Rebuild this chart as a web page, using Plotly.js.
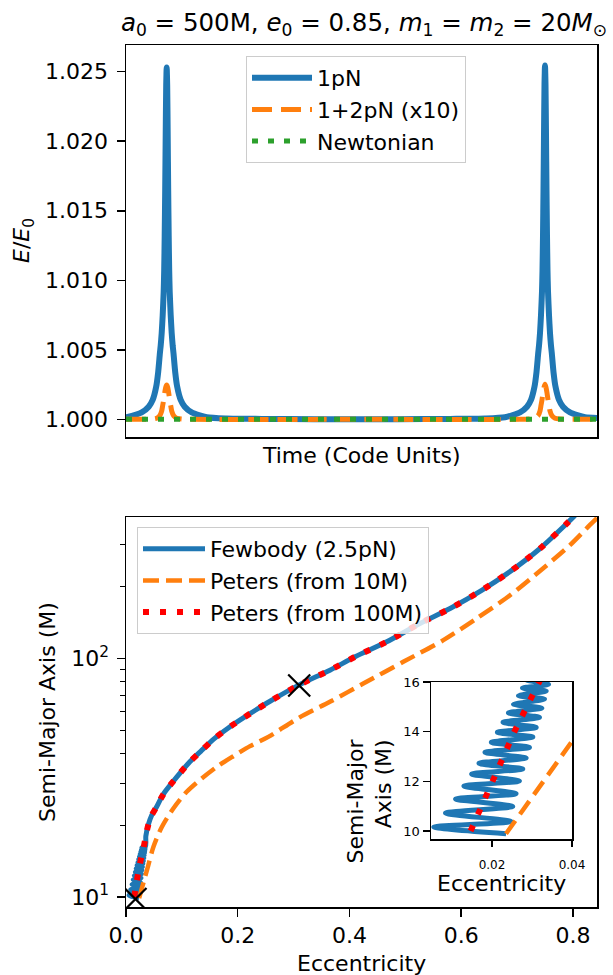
<!DOCTYPE html>
<html><head><meta charset="utf-8">
<script src="https://cdn.plot.ly/plotly-3.0.1.min.js"></script>
<style>html,body{margin:0;padding:0;background:#fff}#chart{width:613px;height:975px}</style>
</head><body><div id="chart"></div><script>
// ---------- Top panel data (E/E0 vs time) ----------
const time1pN = [0, 0.15, 3.332, 4.819, 5.668, 6.411, 6.835, 7.196, 7.366, 7.578,
  7.791, 8.003, 8.109, 8.215, 8.322, 8.428, 8.534, 8.64, 8.746, 8.852,
  8.958, 9.065, 9.171, 9.277, 9.489, 9.702, 9.914, 10.084, 10.445, 10.869,
  11.612, 12.461, 13.948, 17.13, 21.38, 28.84, 40, 48.8, 57.6, 68.76,
  76.22, 80.47, 83.652, 85.139, 85.988, 86.731, 87.155, 87.516, 87.686, 87.898,
  88.111, 88.323, 88.429, 88.535, 88.642, 88.748, 88.854, 88.96, 89.066, 89.172,
  89.278, 89.385, 89.491, 89.597, 89.809, 90.022, 90.234, 90.404, 90.765, 91.189,
  91.932, 92.781, 94.268, 97.45, 100];
const energy1pN = [1.00014, 1.00015, 1.0005, 1.00091, 1.0014, 1.00235, 1.0034, 1.00475, 1.0053, 1.0062,
  1.0075, 1.0092, 1.0107, 1.0132, 1.0165, 1.0205, 1.0240, 1.0253, 1.0240, 1.0205,
  1.0165, 1.0132, 1.0107, 1.0092, 1.0075, 1.0062, 1.0053, 1.00475, 1.0034, 1.00235,
  1.0014, 1.00091, 1.0005, 1.00015, 1.00006, 1.00003, 1.00001, 1.00001, 1.00001, 1.00003,
  1.00006, 1.00015, 1.0005, 1.00091, 1.0014, 1.00235, 1.0034, 1.00475, 1.0053, 1.0062,
  1.0075, 1.0092, 1.0107, 1.0132, 1.0165, 1.0205, 1.0241, 1.02545, 1.0241, 1.0205,
  1.0165, 1.0132, 1.0107, 1.0092, 1.0075, 1.0062, 1.0053, 1.00475, 1.0034, 1.00235,
  1.0014, 1.00091, 1.0005, 1.00015, 1.0001];
const time12pN = [0, 3.33, 5.455, 6.517, 7.154, 7.578, 7.791, 8.003, 8.215, 8.428,
  8.64, 8.852, 9.065, 9.277, 9.489, 9.702, 10.126, 10.763, 11.825, 13.95,
  50, 83.65, 85.775, 86.837, 87.474, 87.898, 88.111, 88.323, 88.535, 88.748,
  88.96, 89.172, 89.385, 89.597, 89.809, 90.022, 90.446, 91.083, 92.145, 94.27, 100];
const energy12pN = [1.0, 1.0, 1.00002, 1.00008, 1.00025, 1.0006, 1.0010, 1.0014, 1.0019, 1.0023,
  1.00247, 1.0023, 1.0019, 1.0014, 1.0010, 1.0006, 1.00025, 1.00008, 1.00002, 1.0,
  1.0, 1.0, 1.00002, 1.00008, 1.00025, 1.0006, 1.0010, 1.0014, 1.0019, 1.0023,
  1.00252, 1.0023, 1.0019, 1.0014, 1.0010, 1.0006, 1.00025, 1.00008, 1.00002, 1.0, 1.0];
const timeNewt = [0, 50, 100];
const energyNewt = [1.0, 1.0, 1.0];
const energyTicks = [1.000, 1.005, 1.010, 1.015, 1.020, 1.025];
const energyTickText = ['1.000', '1.005', '1.010', '1.015', '1.020', '1.025'];

// ---------- Bottom panel data (semi-major axis vs eccentricity) ----------
const eccFewbody = [0.02351, 0.00544, 0.02477, 0.00837, 0.02519, 0.01088, 0.02602, 0.01297, 0.02686, 0.01490,
  0.02770, 0.01674, 0.02854, 0.01824, 0.02937, 0.01983, 0.03021, 0.02134, 0.03105, 0.02276,
  0.03188, 0.02410, 0.03247, 0.02536, 0.03314, 0.02661, 0.03356, 0.02761, 0.03414, 0.02845,
  0.03473, 0.0355, 0.040, 0.046, 0.0549, 0.0625, 0.0698, 0.0907, 0.1115, 0.1342, 0.158, 0.1831,
  0.2099, 0.2368, 0.2608, 0.31, 0.365, 0.41, 0.4666, 0.526, 0.58, 0.6366,
  0.6903, 0.741, 0.789, 0.8036, 0.815];
const aFewbody = [9.893, 10.161, 10.389, 10.725, 10.993, 11.289, 11.503, 11.812, 12.013, 12.295,
  12.497, 12.725, 12.940, 13.168, 13.369, 13.570, 13.785, 13.973, 14.174, 14.376,
  14.577, 14.752, 14.953, 15.101, 15.315, 15.450, 15.638, 15.758, 15.906, 16.094,
  16.255, 18.0, 20.1, 22.0, 23.9, 25.9, 27.6, 31.8, 36.3, 40.9, 46.1, 51.1,
  56.3, 61.7, 66.8, 77.5, 89.3, 101.6, 117.4, 140.2, 162, 193,
  234, 289, 368, 398, 430];
const ecc10M = [0.0235, 0.04, 0.049, 0.0639, 0.0847, 0.1086, 0.1355, 0.1623, 0.192, 0.222,
  0.2547, 0.31, 0.365, 0.4247, 0.4963, 0.568, 0.6277, 0.6873, 0.7468, 0.7946, 0.836, 0.86];
const a10M = [9.893, 13.61, 16.2, 19.6, 23.5, 27.6, 31.4, 35.1, 38.9, 42.9,
  46.9, 56.5, 65.8, 78.5, 96.8, 119.3, 147.2, 184, 239, 298.5, 374, 420];
const ecc100M = [0.01465, 0.01665, 0.01849, 0.02033, 0.02201, 0.02385, 0.02561, 0.02745, 0.02937, 0.03121,
  0.0355, 0.040, 0.046, 0.0549, 0.0625, 0.0698, 0.0907, 0.1115, 0.1342, 0.158, 0.1831, 0.2099,
  0.2368, 0.2608, 0.31, 0.365, 0.41, 0.4666, 0.526, 0.58, 0.6366, 0.6903,
  0.741, 0.789, 0.8036, 0.815];
const a100M = [10.0, 10.70, 11.37, 12.03, 12.70, 13.36, 14.01, 14.67, 15.34, 15.96,
  18.0, 20.1, 22.0, 23.9, 25.9, 27.6, 31.8, 36.3, 40.9, 46.1, 51.1, 56.3,
  61.7, 66.8, 77.5, 89.3, 101.6, 117.4, 140.2, 162, 193, 234,
  289, 368, 398, 430];
const markerEcc = [0.017, 0.31];
const markerA = [9.8, 77];
const eccTicks = [0, 0.2, 0.4, 0.6, 0.8];
const eccTickText = ['0.0', '0.2', '0.4', '0.6', '0.8'];
const aMajorTicks = [10, 100];
const aMajorText = ['10<sup>1</sup>', '10<sup>2</sup>'];
const aMinorTicks = [9, 20, 30, 40, 50, 60, 70, 80, 90, 200, 300];
const insetEccTicks = [0.02, 0.04];
const insetEccText = ['0.02', '0.04'];
const insetATicks = [10, 12, 14, 16];

const BLUE = '#1f77b4', ORANGE = '#ff7f0e', GREEN = '#2ca02c', RED = '#ff0000';
const FONT = 'DejaVu Sans, Arial, sans-serif';
const W = 613, H = 975;
const px = v => v / W, py = v => 1 - v / H;

const traces = [
  {x: time1pN, y: energy1pN, name: '1pN', mode: 'lines', xaxis: 'x', yaxis: 'y', legend: 'legend',
   line: {color: BLUE, width: 6, shape: 'spline', smoothing: 0.6}},
  {x: time12pN, y: energy12pN, name: '1+2pN (x10)', mode: 'lines', xaxis: 'x', yaxis: 'y', legend: 'legend',
   line: {color: ORANGE, width: 5, dash: '20px,9px', shape: 'spline', smoothing: 0.6}},
  {x: timeNewt, y: energyNewt, name: 'Newtonian', mode: 'lines', xaxis: 'x', yaxis: 'y', legend: 'legend',
   line: {color: GREEN, width: 5, dash: '6px,10px'}},

  {x: eccFewbody, y: aFewbody, name: 'Fewbody (2.5pN)', mode: 'lines', xaxis: 'x2', yaxis: 'y2', legend: 'legend2',
   line: {color: BLUE, width: 5, shape: 'spline', smoothing: 0.8}},
  {x: ecc10M, y: a10M, name: 'Peters (from 10M)', mode: 'lines', xaxis: 'x2', yaxis: 'y2', legend: 'legend2',
   line: {color: ORANGE, width: 4.5, dash: '16px,7px', shape: 'spline', smoothing: 0.8}},
  {x: ecc100M, y: a100M, name: 'Peters (from 100M)', mode: 'lines', xaxis: 'x2', yaxis: 'y2', legend: 'legend2',
   line: {color: RED, width: 6, dash: '6px,11px', shape: 'spline', smoothing: 0.8}},
  {x: markerEcc, y: markerA, mode: 'markers', xaxis: 'x2', yaxis: 'y2', showlegend: false,
   marker: {symbol: 'x-thin', size: 22, color: 'black', line: {color: 'black', width: 2.2}}},

  {x: eccFewbody, y: aFewbody, mode: 'lines', xaxis: 'x3', yaxis: 'y3', showlegend: false,
   line: {color: BLUE, width: 5, shape: 'spline', smoothing: 0.8}},
  {x: ecc10M, y: a10M, mode: 'lines', xaxis: 'x3', yaxis: 'y3', showlegend: false,
   line: {color: ORANGE, width: 4.5, dash: '16px,8px'}},
  {x: ecc100M, y: a100M, mode: 'lines', xaxis: 'x3', yaxis: 'y3', showlegend: false,
   line: {color: RED, width: 6, dash: '6px,12px'}}
];

const axBase = {showgrid: false, zeroline: false, showline: true, linecolor: 'black', linewidth: 1.5,
  mirror: true, ticks: 'outside', tickcolor: 'black', tickwidth: 1.5, ticklen: 8,
  tickfont: {family: FONT, size: 22, color: 'black'}, fixedrange: true};

const layout = {
  width: W, height: H, margin: {l: 0, r: 0, t: 0, b: 0},
  paper_bgcolor: 'white', plot_bgcolor: 'white',
  font: {family: FONT, size: 22, color: 'black'},
  title: {text: '<i>a</i><sub>0</sub> = 500M, <i>e</i><sub>0</sub> = 0.85, <i>m</i><sub>1</sub> = <i>m</i><sub>2</sub> = 20<i>M</i><sub>⊙</sub>',
    x: px(364), xanchor: 'center', y: py(22), yanchor: 'middle', font: {family: FONT, size: 24.5, color: 'black'}},
  xaxis: Object.assign({}, axBase, {domain: [px(126), px(597)], range: [0, 100], ticks: '', showticklabels: false, anchor: 'y'}),
  yaxis: Object.assign({}, axBase, {domain: [py(437), py(45)], range: [0.99873, 1.02692], tickvals: energyTicks, ticktext: energyTickText, anchor: 'x', ticklabelstandoff: 4}),
  xaxis2: Object.assign({}, axBase, {domain: [px(126), px(597)], range: [0, 0.843], tickvals: eccTicks, ticktext: eccTickText, anchor: 'y2'}),
  yaxis2: Object.assign({}, axBase, {domain: [py(907), py(517)], type: 'log', range: [0.958, 2.593],
    tickvals: aMajorTicks, ticktext: aMajorText, anchor: 'x2', ticklabelstandoff: 3,
    minor: {tickmode: 'array', tickvals: aMinorTicks, ticks: 'outside', ticklen: 4.5, tickwidth: 1.2, tickcolor: 'black', showgrid: false}}),
  xaxis3: Object.assign({}, axBase, {domain: [px(431), px(572)], range: [0.00475, 0.04], tickvals: insetEccTicks, ticktext: insetEccText,
    ticklen: 6, tickfont: {family: FONT, size: 12, color: 'black'}, anchor: 'y3', ticklabelstandoff: 8}),
  yaxis3: Object.assign({}, axBase, {domain: [py(839), py(682)], range: [9.68, 16], tickvals: insetATicks,
    ticklen: 7, tickfont: {family: FONT, size: 13, color: 'black'}, anchor: 'x3'}),
  legend: {x: px(246), y: py(56), xanchor: 'left', yanchor: 'top', bgcolor: 'rgba(255,255,255,0.8)',
    bordercolor: '#cccccc', borderwidth: 1, font: {family: FONT, size: 22, color: 'black'}, itemwidth: 60},
  legend2: {x: px(137), y: py(527), xanchor: 'left', yanchor: 'top', bgcolor: 'rgba(255,255,255,0.8)',
    bordercolor: '#cccccc', borderwidth: 1, font: {family: FONT, size: 22, color: 'black'}, itemwidth: 62},
  annotations: [
    {text: '<i>E</i>/<i>E</i><sub>0</sub>', textangle: -90, x: px(23), y: py(241), xref: 'paper', yref: 'paper',
     xanchor: 'center', yanchor: 'middle', showarrow: false, font: {family: FONT, size: 22, color: 'black'}},
    {text: 'Time (Code Units)', x: px(361.5), y: py(455), xref: 'paper', yref: 'paper',
     xanchor: 'center', yanchor: 'middle', showarrow: false, font: {family: FONT, size: 22, color: 'black'}},
    {text: 'Semi-Major Axis (M)', textangle: -90, x: px(47), y: py(712), xref: 'paper', yref: 'paper',
     xanchor: 'center', yanchor: 'middle', showarrow: false, font: {family: FONT, size: 22, color: 'black'}},
    {text: 'Eccentricity', x: px(361.5), y: py(963), xref: 'paper', yref: 'paper',
     xanchor: 'center', yanchor: 'middle', showarrow: false, font: {family: FONT, size: 22, color: 'black'}},
    {text: 'Semi-Major<br>Axis (M)', textangle: -90, align: 'right', x: px(369.5), y: py(801), xref: 'paper', yref: 'paper',
     xanchor: 'center', yanchor: 'middle', showarrow: false, font: {family: FONT, size: 22, color: 'black'}},
    {text: 'Eccentricity', x: px(501.5), y: py(883), xref: 'paper', yref: 'paper',
     xanchor: 'center', yanchor: 'middle', showarrow: false, font: {family: FONT, size: 22, color: 'black'}}
  ],
  showlegend: true
};

Plotly.newPlot('chart', traces, layout, {displayModeBar: false, staticPlot: true});
</script></body></html>
